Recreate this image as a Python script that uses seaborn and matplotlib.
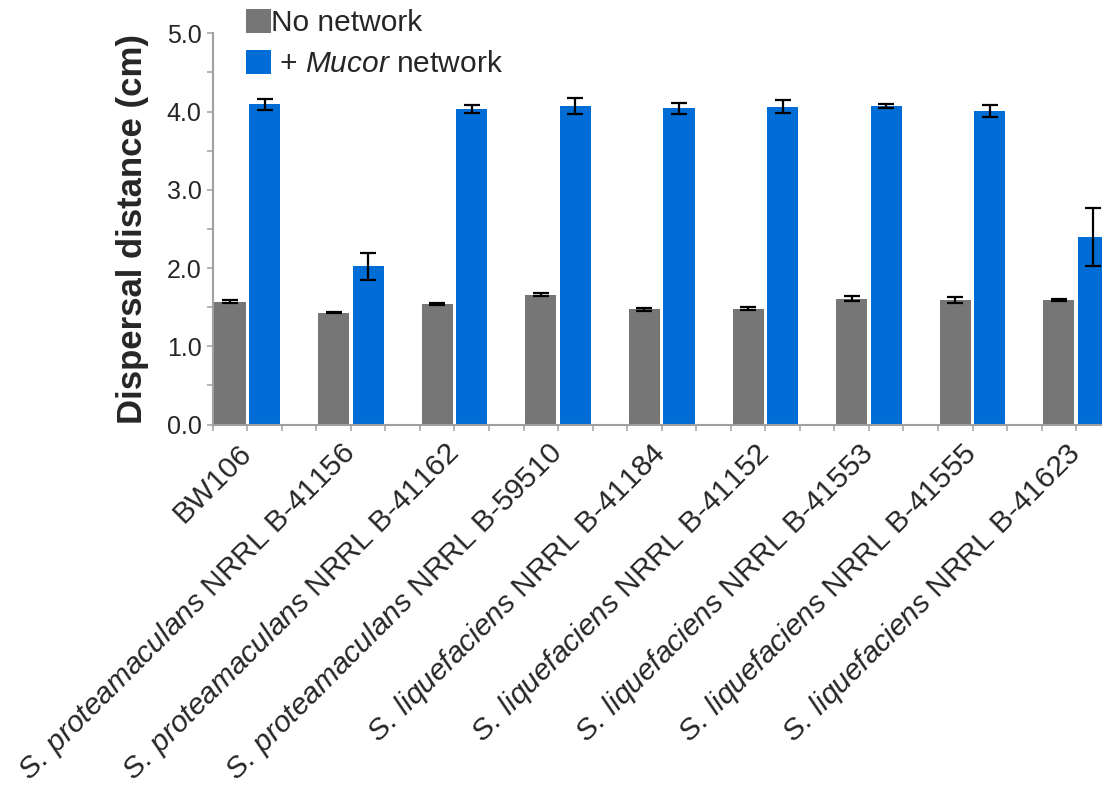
import matplotlib
matplotlib.use("Agg")
import matplotlib.pyplot as plt
from matplotlib.patches import Patch
from matplotlib.ticker import MultipleLocator, FormatStrFormatter
import seaborn as sns
import pandas as pd

# ---- data ----
species = ["", "S. proteamaculans", "S. proteamaculans", "S. proteamaculans",
           "S. liquefaciens", "S. liquefaciens", "S. liquefaciens",
           "S. liquefaciens", "S. liquefaciens"]
strain_ids = ["BW106", "NRRL B-41156", "NRRL B-41162", "NRRL B-59510",
              "NRRL B-41184", "NRRL B-41152", "NRRL B-41553",
              "NRRL B-41555", "NRRL B-41623"]
conditions = ["No network", "+ Mucor network"]
no_network = [1.57, 1.43, 1.54, 1.66, 1.47, 1.48, 1.61, 1.59, 1.59]
no_network_err = [0.02, 0.01, 0.015, 0.015, 0.02, 0.02, 0.035, 0.035, 0.008]
mucor_network = [4.09, 2.02, 4.03, 4.07, 4.04, 4.06, 4.07, 4.01, 2.40]
mucor_network_err = [0.065, 0.17, 0.055, 0.10, 0.07, 0.085, 0.02, 0.075, 0.37]

GRAY = "#767676"
BLUE = "#006cd6"
AXIS = "#a0a0a0"

sns.set_style("ticks")
plt.rcParams["font.family"] = ["Liberation Sans", "DejaVu Sans"]
plt.rcParams["mathtext.fontset"] = "custom"
plt.rcParams["mathtext.rm"] = "Liberation Sans"
plt.rcParams["mathtext.it"] = "Liberation Sans:italic"
plt.rcParams["mathtext.bf"] = "Liberation Sans:bold"


def make_label(sp, sid):
    if not sp:
        return sid
    return r"$\it{" + sp.replace(" ", r"\:") + "}$ " + sid


labels = [make_label(s, i) for s, i in zip(species, strain_ids)]

rows = []
for lab, v0, v1 in zip(labels, no_network, mucor_network):
    rows.append({"strain": lab, "condition": conditions[0], "value": v0})
    rows.append({"strain": lab, "condition": conditions[1], "value": v1})
df = pd.DataFrame(rows)

W, H = 1102, 794
fig = plt.figure(figsize=(W / 100, H / 100), dpi=100, facecolor="white")
ax_left, ax_right_px = 212.7, 212.7 + 27 * 34.54
ax_top, ax_bottom = 33.3, 424.5
ax = fig.add_axes([ax_left / W, (H - ax_bottom) / H,
                   (ax_right_px - ax_left) / W, (ax_bottom - ax_top) / H])

sns.barplot(data=df, x="strain", y="value", hue="condition",
            order=labels, hue_order=conditions, palette=[GRAY, BLUE],
            width=2 / 3, gap=0.1, errorbar=None, legend=False,
            saturation=1, edgecolor="none", linewidth=0, ax=ax)

bars = ax.patches
n = len(labels)
for group, errs in ((bars[:n], no_network_err), (bars[n:2 * n], mucor_network_err)):
    xs = [b.get_x() + b.get_width() / 2 for b in group]
    ys = [b.get_height() for b in group]
    ax.errorbar(xs, ys, yerr=errs, fmt="none", ecolor="black",
                elinewidth=1.6, capsize=5.5, capthick=1.6, zorder=5)

ax.set_xlim(-1 / 3, n - 1 / 3)
ax.set_ylim(0, 5)
ax.yaxis.set_major_locator(MultipleLocator(1.0))
ax.yaxis.set_minor_locator(MultipleLocator(0.5))
ax.yaxis.set_major_formatter(FormatStrFormatter("%.1f"))
ax.xaxis.set_minor_locator(MultipleLocator(1 / 3))

for side in ("top", "right"):
    ax.spines[side].set_visible(False)
for side in ("left", "bottom"):
    ax.spines[side].set_color(AXIS)
    ax.spines[side].set_linewidth(1.5)

ax.tick_params(axis="both", which="both", direction="out", color=AXIS,
               width=1.1, length=4.5)
ax.tick_params(axis="y", which="major", labelsize=18, pad=3.5)
ax.tick_params(axis="x", which="major", labelsize=21.5, pad=13)

ax.set_xlabel("")
ax.set_xticks(range(n))
ax.set_xticklabels(labels, rotation=45, ha="right", rotation_mode="anchor",
                   va="center")
ax.set_ylabel("Dispersal distance (cm)", fontsize=25, fontweight="bold",
              labelpad=13)

handles = [Patch(facecolor=GRAY, edgecolor="none"),
           Patch(facecolor=BLUE, edgecolor="none")]
fig.legend(handles, ["No network", r" + $\it{Mucor}$ network"],
           loc="upper left", bbox_to_anchor=(246 / W, 1 - 9 / H),
           frameon=False, borderpad=0, borderaxespad=0,
           handlelength=0.85, handleheight=0.85, handletextpad=0.0,
           labelspacing=0.42, fontsize=21.5)

fig.savefig("out.png", dpi=100, facecolor="white")
